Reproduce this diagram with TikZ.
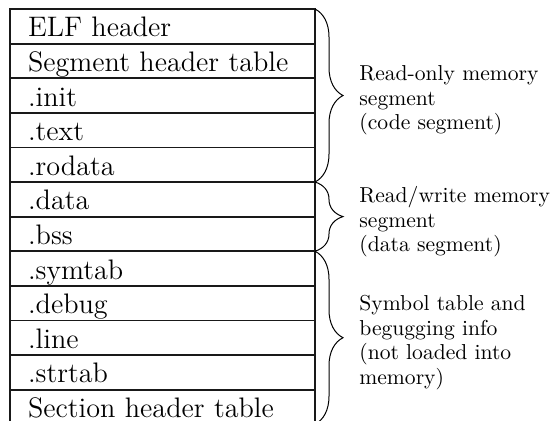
\documentclass[tikz,border=0pt]{standalone}
\usepackage{tikz}
\usetikzlibrary{positioning,calc,decorations.pathreplacing}
\definecolor{TableInk}{RGB}{25,25,25}

\begin{document}
\begin{tikzpicture}[x=0.5pt,y=-0.5pt,
    sect/.style={draw=TableInk,line width=0.9pt,outer sep=0pt,inner xsep=9pt,inner ysep=0pt,
      text width=134.5pt,align=left,minimum height=17.3pt,text height=1.05em,text depth=0pt,
      font=\fontsize{14.1}{17}\selectfont},
    segbrace/.style={decorate,decoration={brace,amplitude=14pt},line width=0.5pt},
    note/.style={anchor=west,align=left,inner sep=0pt,yshift=-2.5pt,
      font=\fontsize{10.8}{12.25}\selectfont}]
    \useasboundingbox (0,0) rectangle (552,420);
    \clip (0,0) rectangle (552,420);
    \node[sect,anchor=north west] (elf) at (10,9) {ELF header};
    \node[sect,below=0pt of elf] (seghdr) {Segment header table};
    \node[sect,below=0pt of seghdr] (init) {.init};
    \node[sect,below=0pt of init] (text) {.text};
    \node[sect,below=0pt of text] (rodata) {.rodata};
    \node[sect,below=0pt of rodata] (data) {.data};
    \node[sect,below=0pt of data] (bss) {.bss};
    \node[sect,below=0pt of bss] (symtab) {.symtab};
    \node[sect,below=0pt of symtab] (debug) {.debug};
    \node[sect,below=0pt of debug] (line) {.line};
    \node[sect,below=0pt of line] (strtab) {.strtab};
    \node[sect,below=0pt of strtab] (sechdr) {Section header table};
    \draw[segbrace] (elf.north east) -- (rodata.south east);
    \draw[segbrace] (data.north east) -- (bss.south east);
    \draw[segbrace] (symtab.north east) -- (sechdr.south east);
    \node[note] (codeseg) at ($(elf.north east)!.5!(rodata.south east)+(44,0)$)
      {Read-only memory\\segment\\(code segment)};
    \node[note] (dataseg) at ($(data.north east)!.5!(bss.south east)+(44,0)$)
      {Read/write memory\\segment\\(data segment)};
    \node[note] (nonload) at ($(symtab.north east)!.5!(sechdr.south east)+(44,0)$)
      {Symbol table and\\begugging info\\(not loaded into\\memory)};
  \end{tikzpicture}
\end{document}
